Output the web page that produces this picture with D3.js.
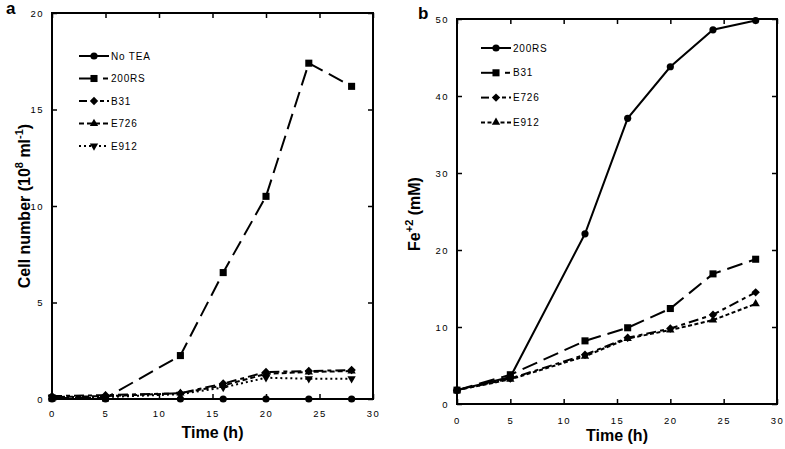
<!DOCTYPE html>
<html><head><meta charset="utf-8">
<script src="https://cdn.jsdelivr.net/npm/d3@7"></script>
<style>body{margin:0;background:#fff}svg{display:block}</style>
</head><body>
<svg id="c" width="785" height="449"></svg>
<script>
const times = [0, 5, 12, 16, 20, 24, 28];
// Panel a: cell number (10^8 ml^-1)
const aNoTEA = [0, 0, 0, 0, 0, 0, 0];
const a200RS = [0.05, 0.05, 2.25, 6.55, 10.5, 17.4, 16.2];
const aB31   = [0.15, 0.2, 0.3, 0.8, 1.4, 1.45, 1.5];
const aE726  = [0.1, 0.15, 0.3, 0.7, 1.3, 1.4, 1.45];
const aE912  = [0.1, 0.1, 0.25, 0.6, 1.1, 1.05, 1.05];
// Panel b: Fe+2 (mM)
const b200RS = [1.8, 3.5, 22.1, 37.1, 43.8, 48.6, 49.8];
const bB31   = [1.8, 3.8, 8.2, 9.9, 12.4, 16.9, 18.8];
const bE726  = [1.8, 3.3, 6.4, 8.6, 9.8, 11.6, 14.5];
const bE912  = [1.8, 3.2, 6.2, 8.5, 9.6, 10.9, 13.0];
const xTicks = [0, 5, 10, 15, 20, 25, 30];
const aYTicks = [0, 5, 10, 15, 20];
const bYTicks = [0, 10, 20, 30, 40, 50];

const styles = {
  solid: null, longdash: "16,7", dashdot: "10,4,4,4", dash: "5,3", dot: "2,3", shortdash: "4,2.5"
};
const FONT = "Liberation Sans, Arial, sans-serif";
const svg = d3.select("#c");

function sym(g, type, x, y) {
  if (type === "circle") g.append("circle").attr("cx", x).attr("cy", y).attr("r", 3.6).attr("fill", "#000");
  else if (type === "diamond") {
    g.append("path").attr("d", "M0,-4.2L4.2,0L0,4.2L-4.2,0Z").attr("transform", `translate(${x},${y})`).attr("fill", "#000");
  } else {
    const t = {square: d3.symbolSquare, triangle: d3.symbolTriangle, down: d3.symbolTriangle}[type];
    const size = {square: 50, triangle: 30, down: 30}[type];
    g.append("path").attr("d", d3.symbol(t, size)())
      .attr("transform", `translate(${x},${y})` + (type === "down" ? " rotate(180)" : ""))
      .attr("fill", "#000");
  }
}

function panel(opt) {
  const x = d3.scaleLinear().domain([0, 30]).range([opt.x0, opt.x1]);
  const y = d3.scaleLinear().domain([0, opt.ymax]).range([opt.y0, opt.y1]);
  const g = svg.append("g");
  g.append("rect").attr("x", opt.x0).attr("y", opt.y1).attr("width", opt.x1 - opt.x0).attr("height", opt.y0 - opt.y1)
    .attr("fill", "none").attr("stroke", "#000").attr("stroke-width", 2);
  const tickFont = g => g.selectAll("text").attr("font-family", FONT).attr("font-size", 9.5).attr("letter-spacing", "1.5px").attr("fill", "#000");
  const bx = g.append("g").attr("transform", `translate(0,${opt.y0})`)
    .call(d3.axisBottom(x).tickValues(xTicks).tickSize(-5).tickPadding(opt.xPad).tickFormat(d3.format("d")));
  bx.select(".domain").remove(); bx.selectAll("line").attr("stroke-width", 1.5); tickFont(bx);
  const tx = g.append("g").attr("transform", `translate(0,${opt.y1})`)
    .call(d3.axisTop(x).tickValues(xTicks).tickSize(-5).tickFormat(""));
  tx.select(".domain").remove(); tx.selectAll("line").attr("stroke-width", 1.5);
  const ly = g.append("g").attr("transform", `translate(${opt.x0},0)`)
    .call(d3.axisLeft(y).tickValues(opt.yTicks).tickSize(-5).tickPadding(8).tickFormat(d3.format("d")));
  ly.select(".domain").remove(); ly.selectAll("line").attr("stroke-width", 1.5); tickFont(ly);
  const ry = g.append("g").attr("transform", `translate(${opt.x1},0)`)
    .call(d3.axisRight(y).tickValues(opt.yTicks).tickSize(-5).tickFormat(""));
  ry.select(".domain").remove(); ry.selectAll("line").attr("stroke-width", 1.5);

  const line = d3.line().x((d, i) => x(times[i])).y(d => y(d));
  opt.series.forEach(s => {
    g.append("path").datum(s.values).attr("d", line).attr("fill", "none").attr("stroke", "#000")
      .attr("stroke-width", 2).attr("stroke-dasharray", styles[s.style]);
    s.values.forEach((v, i) => sym(g, s.marker, x(times[i]), y(v)));
  });
  opt.series.forEach((s, i) => {
    const ly = opt.legY + i * opt.legDy;
    const lx = opt.legX;
    if (s.style === "longdash") {
      g.append("line").attr("x1", lx).attr("x2", lx + 12).attr("y1", ly).attr("y2", ly).attr("stroke", "#000").attr("stroke-width", 2);
      g.append("line").attr("x1", lx + 24).attr("x2", lx + 29).attr("y1", ly).attr("y2", ly).attr("stroke", "#000").attr("stroke-width", 2);
    } else if (s.style === "dashdot") {
      g.append("line").attr("x1", lx).attr("x2", lx + 8).attr("y1", ly).attr("y2", ly).attr("stroke", "#000").attr("stroke-width", 2);
      g.append("line").attr("x1", lx + 21).attr("x2", lx + 30).attr("y1", ly).attr("y2", ly).attr("stroke", "#000")
        .attr("stroke-width", 2).attr("stroke-dasharray", "4,3");
    } else {
      g.append("line").attr("x1", lx).attr("x2", lx + 30).attr("y1", ly).attr("y2", ly).attr("stroke", "#000")
        .attr("stroke-width", 2).attr("stroke-dasharray", styles[s.style]);
    }
    sym(g, s.marker, lx + 15, ly);
    g.append("text").attr("x", lx + 32).attr("y", ly + 3.5).text(s.name)
      .attr("font-family", FONT).attr("font-size", 10).attr("letter-spacing", "0.8px");
  });
  g.append("text").attr("x", (opt.x0 + opt.x1) / 2).attr("y", opt.xtY).attr("text-anchor", "middle")
    .attr("font-family", FONT).attr("font-weight", "bold").attr("font-size", 16).text("Time (h)");
  const yt = g.append("text").attr("transform", `translate(${opt.ytX},${opt.ytY}) rotate(-90)`).attr("text-anchor", "middle")
    .attr("font-family", FONT).attr("font-weight", "bold").attr("font-size", 16);
  opt.ytitle(yt);
  g.append("text").attr("x", opt.labX).attr("y", opt.labY).text(opt.label)
    .attr("font-family", FONT).attr("font-weight", "bold").attr("font-size", 17);
}

panel({
  x0: 52, x1: 373, y0: 399, y1: 13, ymax: 20, yTicks: aYTicks, xPad: 11, xtY: 438,
  series: [
    {name: "No TEA", values: aNoTEA, style: "solid", marker: "circle"},
    {name: "200RS", values: a200RS, style: "longdash", marker: "square"},
    {name: "B31", values: aB31, style: "dashdot", marker: "diamond"},
    {name: "E726", values: aE726, style: "dash", marker: "triangle"},
    {name: "E912", values: aE912, style: "dot", marker: "down"}
  ],
  legX: 79, legY: 56, legDy: 22.5,
  ytX: 30, ytY: 206,
  ytitle: t => {
    t.append("tspan").text("Cell number (10");
    t.append("tspan").attr("dy", -7).attr("font-size", 11).text("8");
    t.append("tspan").attr("dy", 7).text(" ml");
    t.append("tspan").attr("dy", -7).attr("font-size", 11).text("-1");
    t.append("tspan").attr("dy", 7).text(")");
  },
  label: "a", labX: 6, labY: 14
});

panel({
  x0: 457, x1: 777, y0: 404, y1: 19, ymax: 50, yTicks: bYTicks, xPad: 13, xtY: 441,
  series: [
    {name: "200RS", values: b200RS, style: "solid", marker: "circle"},
    {name: "B31", values: bB31, style: "longdash", marker: "square"},
    {name: "E726", values: bE726, style: "dashdot", marker: "diamond"},
    {name: "E912", values: bE912, style: "shortdash", marker: "triangle"}
  ],
  legX: 481, legY: 48, legDy: 24.8,
  ytX: 420, ytY: 214,
  ytitle: t => {
    t.append("tspan").text("Fe");
    t.append("tspan").attr("dy", -7).attr("font-size", 11).text("+2");
    t.append("tspan").attr("dy", 7).text(" (mM)");
  },
  label: "b", labX: 418, labY: 19
});
</script>
</body></html>
